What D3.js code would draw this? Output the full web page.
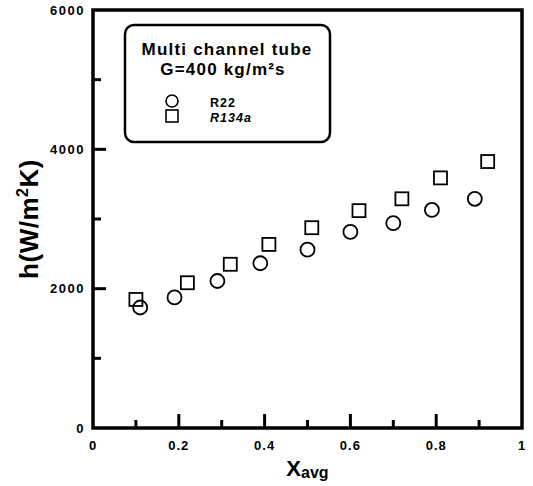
<!DOCTYPE html>
<html><head><meta charset="utf-8">
<script src="https://cdn.jsdelivr.net/npm/d3@7"></script>
<style>body{margin:0;background:#fff}svg{display:block}</style>
</head><body><svg id="c" width="533" height="486"></svg>
<script>
const r22X = [0.11, 0.19, 0.29, 0.39, 0.50, 0.60, 0.70, 0.79, 0.89];
const r22H = [1730, 1875, 2110, 2365, 2560, 2815, 2940, 3130, 3290];
const r134aX = [0.10, 0.22, 0.32, 0.41, 0.51, 0.62, 0.72, 0.81, 0.92];
const r134aH = [1845, 2085, 2350, 2635, 2875, 3120, 3290, 3590, 3825];
const xTicks = [0, 0.2, 0.4, 0.6, 0.8, 1];
const xTickLabels = ["0", "0.2", "0.4", "0.6", "0.8", "1"];
const yTicks = [0, 2000, 4000, 6000];
const yTickLabels = ["0", "2000", "4000", "6000"];

const svg = d3.select("#c");
const L = 93, R = 522, T = 10, B = 428;
const x = d3.scaleLinear().domain([0, 1]).range([L, R]);
const y = d3.scaleLinear().domain([0, 6000]).range([B, T]);
const font = "Arial, 'Liberation Sans', sans-serif";

const g = svg.append("g");
const xMinor = [0.1, 0.3, 0.5, 0.7, 0.9];
const yMinor = [1000, 3000, 5000];
g.selectAll(".xmaj").data(xTicks.slice(1, -1)).join("line")
  .attr("x1", d => x(d)).attr("x2", d => x(d)).attr("y1", B).attr("y2", B - 14)
  .attr("stroke", "#000").attr("stroke-width", 3);
g.selectAll(".xmin").data(xMinor).join("line").attr("class","xmin")
  .attr("x1", d => x(d)).attr("x2", d => x(d)).attr("y1", B).attr("y2", B - 8)
  .attr("stroke", "#000").attr("stroke-width", 3);
g.selectAll(".ymaj").data(yTicks.slice(1, -1)).join("line").attr("class","ymaj")
  .attr("x1", L).attr("x2", L + 13).attr("y1", d => y(d)).attr("y2", d => y(d))
  .attr("stroke", "#000").attr("stroke-width", 3);
g.selectAll(".ymin").data(yMinor).join("line").attr("class","ymin")
  .attr("x1", L).attr("x2", L + 8).attr("y1", d => y(d)).attr("y2", d => y(d))
  .attr("stroke", "#000").attr("stroke-width", 3);

svg.append("rect").attr("x", L).attr("y", T).attr("width", R - L).attr("height", B - T)
  .attr("fill", "none").attr("stroke", "#000").attr("stroke-width", 3.5);

svg.selectAll(".xl").data(xTicks).join("text")
  .attr("x", d => x(d)).attr("y", B + 22).attr("text-anchor", "middle")
  .attr("font-family", font).attr("font-weight", "bold").attr("font-size", 13)
  .attr("letter-spacing", 1).text((d, i) => xTickLabels[i]);
svg.selectAll(".yl").data(yTicks).join("text")
  .attr("x", L - 8).attr("y", d => y(d) + 4.5).attr("text-anchor", "end")
  .attr("font-family", font).attr("font-weight", "bold").attr("font-size", 13)
  .attr("letter-spacing", 1.5).text((d, i) => yTickLabels[i]);

const xt = svg.append("text").attr("x", x(0.5)).attr("y", 476).attr("text-anchor", "middle")
  .attr("font-family", font).attr("font-weight", "bold");
xt.append("tspan").attr("font-size", 22).text("X");
xt.append("tspan").attr("font-size", 16).attr("dy", 2).text("avg");

const yt = svg.append("text").attr("transform", `translate(38,${(T + B) / 2}) rotate(-90)`)
  .attr("text-anchor", "middle").attr("font-family", font).attr("font-weight", "bold")
  .attr("font-size", 26).attr("letter-spacing", 0.5);
yt.append("tspan").text("h(W/m");
yt.append("tspan").attr("font-size", 16).attr("dy", -10).text("2");
yt.append("tspan").attr("dy", 10).text("K)");

svg.selectAll(".c22").data(r22X).join("circle")
  .attr("cx", d => x(d)).attr("cy", (d, i) => y(r22H[i])).attr("r", 7)
  .attr("fill", "none").attr("stroke", "#000").attr("stroke-width", 1.8);
const s = 13;
svg.selectAll(".s134").data(r134aX).join("rect")
  .attr("x", d => x(d) - s / 2).attr("y", (d, i) => y(r134aH[i]) - s / 2)
  .attr("width", s).attr("height", s)
  .attr("fill", "none").attr("stroke", "#000").attr("stroke-width", 1.8);

svg.append("rect").attr("x", 125).attr("y", 25).attr("width", 205).attr("height", 117)
  .attr("rx", 9).attr("fill", "#fff").attr("stroke", "#000").attr("stroke-width", 2.5);
svg.append("text").attr("x", 227).attr("y", 55).attr("text-anchor", "middle")
  .attr("font-family", font).attr("font-weight", "bold").attr("font-size", 17)
  .attr("letter-spacing", 1.2).text("Multi channel tube");
svg.append("text").attr("x", 223).attr("y", 75).attr("text-anchor", "middle")
  .attr("font-family", font).attr("font-weight", "bold").attr("font-size", 17)
  .attr("letter-spacing", 1.2).text("G=400 kg/m²s");
svg.append("circle").attr("cx", 172).attr("cy", 101).attr("r", 6)
  .attr("fill", "none").attr("stroke", "#000").attr("stroke-width", 1.6);
svg.append("rect").attr("x", 166).attr("y", 110).attr("width", 12).attr("height", 12)
  .attr("fill", "none").attr("stroke", "#000").attr("stroke-width", 1.6);
svg.append("text").attr("x", 210).attr("y", 107).attr("font-family", font)
  .attr("font-weight", "bold").attr("font-size", 12.5).attr("letter-spacing", 1).text("R22");
svg.append("text").attr("x", 210).attr("y", 122).attr("font-family", font)
  .attr("font-weight", "bold").attr("font-style", "italic").attr("font-size", 12.5)
  .attr("letter-spacing", 1).text("R134a");
</script></body></html>
